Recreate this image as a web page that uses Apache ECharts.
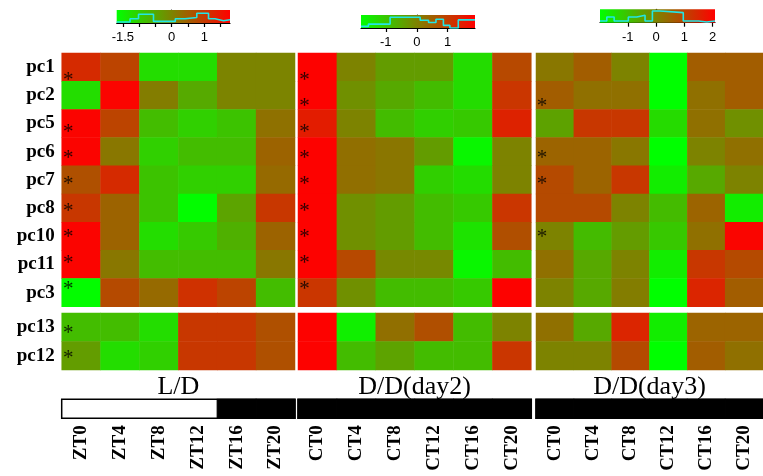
<!DOCTYPE html>
<html><head><meta charset="utf-8">
<script src="https://cdn.jsdelivr.net/npm/echarts@6/dist/echarts.min.js"></script>
<style>html,body{margin:0;padding:0;background:#fff}#c{width:763px;height:476px}</style>
</head><body><div id="c"></div>
<script>
// ---------- DATA ----------
const rowsTop = ['pc1','pc2','pc5','pc6','pc7','pc8','pc10','pc11','pc3'];
const rowsBottom = ['pc13','pc12'];
const colsLD = ['ZT0','ZT4','ZT8','ZT12','ZT16','ZT20'];
const colsDD = ['CT0','CT4','CT8','CT12','CT16','CT20'];
const panelTitles = ['L/D','D/D(day2)','D/D(day3)'];

const ldTop = [
  [1.22, 0.87, -1.22, -1.22, 0, 0],
  [-1.22, 1.74, 0.09, -0.52, 0, 0],
  [1.74, 0.87, -0.78, -1.04, -0.87, 0.26],
  [1.74, 0.17, -1.04, -0.78, -0.78, 0.44],
  [0.70, 1.22, -0.87, -1.04, -1.04, 0.35],
  [1.04, 0.44, -0.87, -1.65, -0.44, 1.04],
  [1.74, 0.44, -1.22, -0.96, -0.61, 0.44],
  [1.74, 0.17, -0.78, -0.78, -0.78, 0.17],
  [-1.65, 0.78, 0.35, 1.13, 0.87, -0.78]
];
const ldBottom = [
  [-0.78, -0.78, -1.22, 1.04, 1.04, 0.70],
  [-0.35, -1.22, -1.04, 1.04, 1.04, 0.70]
];
const dd2Top = [
  [1.85, 0, -0.37, -0.37, -1.3, 0.83],
  [1.85, -0.19, -0.56, -0.83, -1.3, 1.11],
  [1.48, 0, -0.83, -1.11, -1.02, 1.39],
  [1.85, 0.28, 0.19, -0.37, -1.67, 0],
  [1.85, 0.28, 0.19, -1.11, -1.3, 0],
  [1.85, -0.19, -0.37, -0.83, -1.02, 1.11],
  [1.85, -0.19, -0.37, -0.83, -1.39, 0.74],
  [1.85, 0.83, -0.09, -0.09, -1.67, -0.83],
  [1.11, -0.19, -0.83, -0.83, -1.02, 1.85]
];
const dd2Bottom = [
  [1.85, -1.57, 0.28, 0.74, -0.83, 0],
  [1.85, -0.83, -0.46, -0.83, -0.83, 1.11]
];
const dd3Top = [
  [0.2, 0.6, 0, -2, 0.6, 0.6],
  [0.6, 0.3, 0.3, -2, 0.3, 0.6],
  [-0.5, 1.2, 1.2, -1.4, 0.3, -0.2],
  [0.5, 0.5, 0.2, -2, 0, 0.3],
  [0.9, 0.5, 1.2, -1.7, -0.6, 0],
  [0.9, 0.9, 0, -0.9, 0.5, -1.7],
  [0, -0.9, -0.4, -1.1, 0.3, 2],
  [0.3, -0.6, 0, -1.7, 1.2, 0.9],
  [0, -0.6, 0.1, -2, 1.5, 0.6]
];
const dd3Bottom = [
  [0.3, -0.6, 1.5, -1.7, 0.5, 0.5],
  [0, 0, 0.9, -2, 0.6, 0.3]
];

// asterisks (significant rows, first column)
const starsLD = ['pc1','pc5','pc6','pc7','pc8','pc10','pc11','pc3','pc13','pc12'];
const starsDD2 = ['pc1','pc2','pc5','pc6','pc7','pc8','pc10','pc11','pc3'];
const starsDD3 = ['pc2','pc6','pc7','pc10'];

// light (1) / dark (0) per time point
const lightLD = [1,1,1,1,0,0];
const lightDD2 = [0,0,0,0,0,0];
const lightDD3 = [0,0,0,0,0,0];

// colour key ranges, ticks, labels, histograms
const key1Range = [-1.69, 1.79];
const key1Ticks = [-1.5,-1,-0.5,0,0.5,1,1.5];
const key1Labels = [-1.5,0,1];
const key1Edges = [-1.69,-1.28,-1.02,-0.56,0.11,0.41,0.77,1.13,1.33,1.59,1.79];
const key1Counts = [3,13,27,5,13,17,30,13,7,10];

const key2Range = [-1.80, 1.88];
const key2Ticks = [-1,0,1];
const key2Labels = [-1,0,1];
const key2Edges = [-1.80,-1.56,-0.86,0.11,0.38,0.62,0.86,1.07,1.34,1.88];
const key2Counts = [5,12,33,24,17,27,8,0,25];

const key3Range = [-1.98, 2.08];
const key3Ticks = [-2,-1,0,1,2];
const key3Labels = [-2,-1,0,1,2];
const key3Edges = [-1.98,-1.74,-1.48,-0.98,-0.68,-0.39,-0.13,0.14,0.96,1.50,1.79,2.08];
const key3Counts = [5,17,5,17,22,5,35,30,5,2,5];

// ---------- LAYOUT / STYLE ----------
const COLORS = ['#00ff00', '#808000', '#ff0000'];
const SERIF = "'Liberation Serif','Times New Roman',serif";
const SANS = "'Liberation Sans',Arial,sans-serif";
const layout = [
  {left: 61.7, width: 233.3, key: {left: 116.7, width: 113.3, top: 10, height: 13}},
  {left: 298, width: 233.3, key: {left: 361, width: 114, top: 15, height: 13}},
  {left: 536, width: 234, key: {left: 600, width: 115, top: 9.3, height: 13.4}}
];
const TOP = {top: 53, height: 253.7};
const BOT = {top: 313, height: 57};
const BAR = {top: 399.3, height: 19};

const panels = [
  {cols: colsLD, top: ldTop, bottom: ldBottom, stars: starsLD, light: lightLD, title: panelTitles[0],
   range: key1Range, ticks: key1Ticks, labels: key1Labels, edges: key1Edges, counts: key1Counts},
  {cols: colsDD, top: dd2Top, bottom: dd2Bottom, stars: starsDD2, light: lightDD2, title: panelTitles[1],
   range: key2Range, ticks: key2Ticks, labels: key2Labels, edges: key2Edges, counts: key2Counts},
  {cols: colsDD, top: dd3Top, bottom: dd3Bottom, stars: starsDD3, light: lightDD3, title: panelTitles[2],
   range: key3Range, ticks: key3Ticks, labels: key3Labels, edges: key3Edges, counts: key3Counts}
];

const grid = [], xAxis = [], yAxis = [], series = [], visualMap = [];
const hidden = {axisLine:{show:false}, axisTick:{show:false}, axisLabel:{show:false}, splitLine:{show:false}};

function matrixData(m){
  const d = [];
  m.forEach((row, r) => row.forEach((v, c) => d.push([c, r, v])));
  return d;
}
function starData(rows, stars, group){
  const d = [];
  rows.forEach((name, r) => {
    if (stars.includes(name)) {
      const off = group === 'top' ? 9 - 2.1 * r : 1.3 - 2.8 * r;
      d.push({value: [0, r], label: {offset: [-13, off + 4.5]}});
    }
  });
  return d;
}

panels.forEach((p, i) => {
  const L = layout[i];
  const gTop = i*4, gBot = i*4+1, gBar = i*4+2, gKey = i*4+3;
  grid.push({left: L.left, width: L.width, top: TOP.top, height: TOP.height});
  grid.push({left: L.left, width: L.width, top: BOT.top, height: BOT.height});
  grid.push({left: L.left, width: L.width, top: BAR.top, height: BAR.height});
  grid.push({left: L.key.left, width: L.key.width, top: L.key.top, height: L.key.height});

  xAxis.push(Object.assign({type:'category', gridIndex:gTop, data:p.cols}, hidden));
  xAxis.push(Object.assign({type:'category', gridIndex:gBot, data:p.cols, name:p.title, nameLocation:'middle', nameGap:4,
    nameTextStyle:{fontFamily:SERIF, fontSize:26, color:'#000', verticalAlign:'top'}}, hidden));
  xAxis.push({type:'category', gridIndex:gBar, data:p.cols, axisLine:{show:false}, axisTick:{show:false}, splitLine:{show:false},
    axisLabel:{rotate:90, margin:7, fontFamily:SERIF, fontWeight:'bold', fontSize:19, color:'#000'}});
  xAxis.push({type:'value', gridIndex:gKey, min:p.range[0], max:p.range[1],
    axisLine:{show:true, lineStyle:{color:'#000', width:1.2}},
    axisTick:{show:true, length:4, customValues:p.ticks, lineStyle:{color:'#000', width:1.2}},
    axisLabel:{customValues:p.labels, margin:8, fontFamily:SANS, fontSize:13, color:'#000'},
    splitLine:{show:false}});

  const showRows = i === 0;
  const rowLabel = {show:showRows, margin:7, fontFamily:SERIF, fontWeight:'bold', fontSize:19, color:'#000'};
  yAxis.push({type:'category', gridIndex:gTop, data:rowsTop, inverse:true, axisLine:{show:false}, axisTick:{show:false}, splitLine:{show:false}, axisLabel:rowLabel});
  yAxis.push({type:'category', gridIndex:gBot, data:rowsBottom, inverse:true, axisLine:{show:false}, axisTick:{show:false}, splitLine:{show:false}, axisLabel:rowLabel});
  yAxis.push(Object.assign({type:'category', gridIndex:gBar, data:['bar']}, hidden));
  yAxis.push({type:'value', gridIndex:gKey, min:0, max:40, position:'right',
    axisLine:{show:true, lineStyle:{color:'#000', width:1.2}}, axisTick:{show:false}, axisLabel:{show:false}, splitLine:{show:false}});

  const sTop = series.length;
  series.push({type:'heatmap', xAxisIndex:gTop, yAxisIndex:gTop, data:matrixData(p.top), itemStyle:{borderWidth:0}, emphasis:{disabled:true}});
  const sBot = series.length;
  series.push({type:'heatmap', xAxisIndex:gBot, yAxisIndex:gBot, data:matrixData(p.bottom), itemStyle:{borderWidth:0}, emphasis:{disabled:true}});
  visualMap.push({type:'continuous', show:false, min:p.range[0], max:p.range[1], seriesIndex:[sTop, sBot], inRange:{color:COLORS}});

  const starLabel = {show:true, formatter:'*', position:'inside', fontFamily:SERIF, fontWeight:'normal', fontSize:21, color:'#000'};
  series.push({type:'scatter', xAxisIndex:gTop, yAxisIndex:gTop, symbolSize:0, z:5, data:starData(rowsTop, p.stars, 'top'), label:starLabel, silent:true});
  series.push({type:'scatter', xAxisIndex:gBot, yAxisIndex:gBot, symbolSize:0, z:5, data:starData(rowsBottom, p.stars, 'bot'), label:starLabel, silent:true});

  // light/dark bar
  series.push({type:'custom', xAxisIndex:gBar, yAxisIndex:gBar, silent:true,
    data:p.light.map((v, c) => [c, 0, v]), encode:{x:0, y:1},
    renderItem:(params, api) => {
      const pt = api.coord([api.value(0), 0]);
      const sz = api.size([1, 1]);
      const cs = params.coordSys;
      const col = api.value(2) ? '#fff' : '#000';
      const children = [{type:'rect', shape:{x:pt[0]-sz[0]/2, y:cs.y, width:sz[0], height:cs.height},
        style:{fill: col, stroke: col, lineWidth: 1.2}}];
      if (params.dataIndex === p.light.length - 1) {
        children.push({type:'rect', z2:10, shape:{x:cs.x, y:cs.y, width:cs.width, height:cs.height},
          style:{fill:'none', stroke:'#000', lineWidth:1.5}});
      }
      return {type:'group', children};
    }});

  // colour key gradient
  series.push({type:'custom', xAxisIndex:gKey, yAxisIndex:gKey, silent:true, z:1,
    data:[[p.range[0], 0]], encode:{x:0, y:1},
    renderItem:(params, api) => {
      const cs = params.coordSys;
      return {type:'rect', shape:{x:cs.x, y:cs.y, width:cs.width, height:cs.height},
        style:{fill:{type:'linear', x:0, y:0, x2:1, y2:0, colorStops:[
          {offset:0, color:COLORS[0]}, {offset:0.5, color:COLORS[1]}, {offset:1, color:COLORS[2]}]}}};
    }});
  // histogram
  const hist = p.counts.map((h, k) => [p.edges[k], h]);
  hist.push([p.edges[p.edges.length-1], p.counts[p.counts.length-1]]);
  series.push({type:'line', xAxisIndex:gKey, yAxisIndex:gKey, step:'end', data:hist, symbol:'none', silent:true, z:3,
    lineStyle:{color:'#22e6e6', width:1.6}});
});

const chart = echarts.init(document.getElementById('c'), null, {renderer:'canvas'});
chart.setOption({animation:false, backgroundColor:'#fff', grid, xAxis, yAxis, visualMap, series});
</script></body></html>
